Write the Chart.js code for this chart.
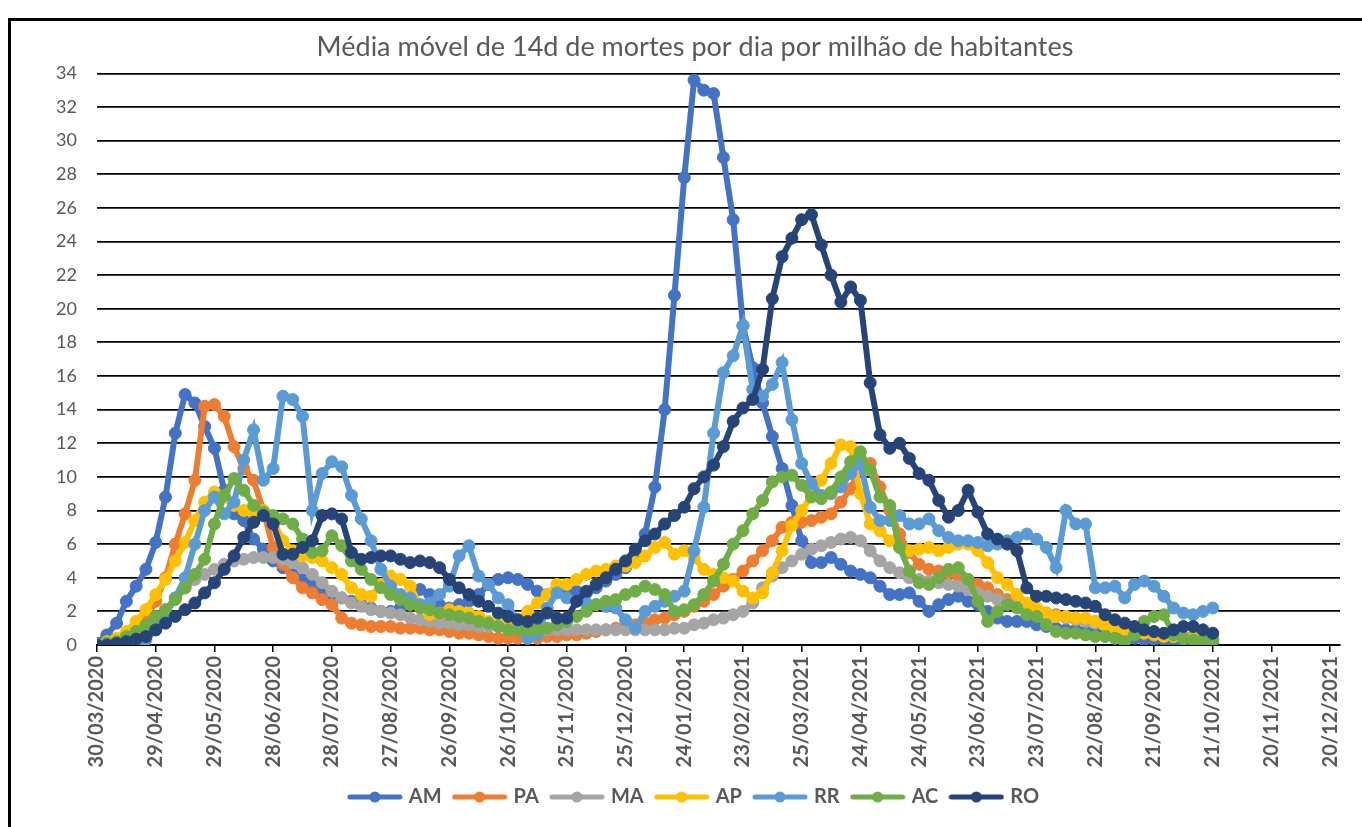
<!DOCTYPE html>
<html>
<head>
<meta charset="utf-8">
<script src="https://cdn.jsdelivr.net/npm/chart.js@4.4.1/dist/chart.umd.min.js"></script>
<style>
  html, body { margin: 0; padding: 0; background: #fff; }
  #frame {
    position: absolute; left: 8px; top: 18px; width: 1360px; height: 900px;
    border-left: 3px solid #000; border-top: 3px solid #000;
  }
  #chart { position: absolute; left: 0; top: 0; }
</style>
</head>
<body>
<div id="frame"></div>
<canvas id="chart" width="1362" height="827"></canvas>
<script>
// days since 30/03/2020, one sample every 5 days
const days = [
  0, 5, 10, 15, 20, 25, 30, 35, 40, 45,
  50, 55, 60, 65, 70, 75, 80, 85, 90, 95,
  100, 105, 110, 115, 120, 125, 130, 135, 140, 145,
  150, 155, 160, 165, 170, 175, 180, 185, 190, 195,
  200, 205, 210, 215, 220, 225, 230, 235, 240, 245,
  250, 255, 260, 265, 270, 275, 280, 285, 290, 295,
  300, 305, 310, 315, 320, 325, 330, 335, 340, 345,
  350, 355, 360, 365, 370, 375, 380, 385, 390, 395,
  400, 405, 410, 415, 420, 425, 430, 435, 440, 445,
  450, 455, 460, 465, 470, 475, 480, 485, 490, 495,
  500, 505, 510, 515, 520, 525, 530, 535, 540, 545,
  550, 555, 560, 565, 570,
];

const tickLabels = [
  "30/03/2020", "29/04/2020", "29/05/2020", "28/06/2020", "28/07/2020", "27/08/2020",
  "26/09/2020", "26/10/2020", "25/11/2020", "25/12/2020", "24/01/2021", "23/02/2021",
  "25/03/2021", "24/04/2021", "24/05/2021", "23/06/2021", "23/07/2021", "22/08/2021",
  "21/09/2021", "21/10/2021", "20/11/2021", "20/12/2021",
];

const seriesNames = ["AM", "PA", "MA", "AP", "RR", "AC", "RO"];
const seriesColors = ["#4472C4", "#ED7D31", "#A5A5A5", "#FFC000", "#5B9BD5", "#70AD47", "#264478"];

const am = [
  0.1, 0.6, 1.3, 2.6, 3.5, 4.5, 6.1, 8.8, 12.6, 14.9,
  14.4, 13.0, 11.7, 9.2, 7.8, 7.4, 6.3, 5.7, 5.0, 4.6,
  4.2, 3.9, 3.6, 3.3, 3.0, 2.8, 2.6, 2.4, 2.2, 2.0,
  2.0, 2.2, 2.6, 3.3, 3.0, 2.4, 2.2, 2.4, 2.6, 3.0,
  3.6, 3.9, 4.0, 3.9, 3.6, 3.2, 3.0, 3.2, 3.3, 3.2,
  3.1, 3.4, 3.8, 4.2, 4.6, 5.4, 6.6, 9.4, 14.0, 20.8,
  27.8, 33.6, 33.0, 32.8, 29.0, 25.3, 19.0, 16.5, 14.4, 12.4,
  10.5, 8.3, 6.2, 4.9, 4.9, 5.2, 4.8, 4.4, 4.2, 4.0,
  3.5, 3.0, 3.0, 3.1, 2.6, 2.0, 2.4, 2.7, 2.9, 2.6,
  2.4, 2.0, 1.6, 1.4, 1.4, 1.4, 1.2, 1.1, 1.0, 0.9,
  0.9, 0.8, 0.7, 0.6, 0.5, 0.4, 0.4, 0.3, 0.3, 0.3,
  0.2, 0.2, 0.2, 0.2, 0.2,
];

const pa = [
  0, 0.1, 0.3, 0.6, 1.0, 1.6, 2.6, 4.0, 6.0, 7.8,
  9.8, 14.2, 14.3, 13.6, 11.8, 10.5, 9.8, 8.0, 5.8, 4.8,
  4.0, 3.4, 3.1, 2.7, 2.4, 1.6, 1.3, 1.2, 1.1, 1.1,
  1.1, 1.0, 1.0, 1.0, 0.9, 0.9, 0.8, 0.7, 0.7, 0.6,
  0.5, 0.4, 0.4, 0.4, 0.4, 0.4, 0.5, 0.5, 0.6, 0.6,
  0.7, 0.8, 0.9, 1.0, 1.1, 1.2, 1.3, 1.5, 1.6, 1.8,
  2.0, 2.3, 2.6, 3.0, 3.5, 3.9, 4.4, 5.0, 5.6, 6.2,
  7.0, 7.3, 7.3, 7.4, 7.6, 7.8, 8.5, 9.3, 10.6, 10.8,
  9.4, 8.0, 6.6, 5.5, 4.8, 4.5, 4.4, 4.3, 4.1, 3.9,
  3.6, 3.4, 3.0, 2.7, 2.5, 2.3, 2.0, 1.9, 1.8, 1.7,
  1.6, 1.5, 1.4, 1.3, 1.1, 1.0, 0.9, 0.8, 0.7, 0.6,
  0.6, 0.5, 0.5, 0.4, 0.4,
];

const ma = [
  0, 0.1, 0.2, 0.4, 0.6, 1.0, 1.5, 2.1, 2.8, 3.4,
  3.9, 4.2, 4.5, 4.8, 5.0, 5.1, 5.2, 5.2, 5.2, 5.1,
  4.9, 4.6, 4.2, 3.7, 3.2, 2.8, 2.5, 2.3, 2.1, 2.0,
  1.9, 1.8, 1.6, 1.5, 1.4, 1.3, 1.3, 1.2, 1.2, 1.1,
  1.1, 1.1, 1.0, 1.0, 1.0, 1.0, 0.9, 0.9, 0.9, 0.9,
  0.9, 0.9, 0.9, 0.9, 0.9, 0.9, 0.9, 0.9, 0.9, 1.0,
  1.0, 1.2, 1.3, 1.5, 1.6, 1.8, 2.0, 2.5, 3.4, 4.1,
  4.6, 5.0, 5.4, 5.7, 5.9, 6.1, 6.3, 6.4, 6.2, 5.6,
  5.0, 4.6, 4.3, 4.0, 3.9, 3.8, 3.7, 3.6, 3.5, 3.3,
  3.1, 2.9, 2.7, 2.5, 2.3, 2.1, 2.0, 1.8, 1.7, 1.6,
  1.5, 1.4, 1.3, 1.2, 1.1, 1.0, 0.9, 0.8, 0.7, 0.6,
  0.5, 0.5, 0.4, 0.4, 0.4,
];

const ap = [
  0, 0.2, 0.4, 0.8, 1.4, 2.1, 3.0, 3.9, 5.0, 6.1,
  7.4, 8.5, 9.1, 8.8, 8.3, 8.0, 7.9, 8.0, 7.4, 6.2,
  5.6, 5.3, 5.2, 5.0, 4.6, 4.2, 3.4, 3.0, 2.9, 3.6,
  4.1, 3.9, 3.5, 2.4, 1.8, 1.9, 2.1, 2.0, 1.9, 1.7,
  1.4, 1.2, 1.1, 1.5, 2.0, 2.5, 3.0, 3.6, 3.6, 3.9,
  4.2, 4.4, 4.5, 4.7, 4.7, 4.9, 5.3, 5.8, 6.1, 5.4,
  5.6, 5.2, 4.5, 4.2, 4.0, 3.8, 3.2, 2.8, 3.1, 4.3,
  5.6, 7.1, 8.0, 8.9, 9.8, 10.8, 11.9, 11.8, 9.0, 7.2,
  6.8, 6.2, 5.8, 5.6, 5.7, 5.8, 5.6, 5.8, 6.0, 6.0,
  5.6, 4.9, 4.0, 3.6, 3.0, 2.5, 2.2, 1.9, 1.7, 1.7,
  1.6, 1.6, 1.4, 1.2, 1.0, 0.9, 0.8, 0.7, 0.6, 0.5,
  0.5, 0.4, 0.4, 0.3, 0.3,
];

const rr = [
  0, 0.1, 0.1, 0.1, 0.1, 0.3, 0.9, 1.8, 2.8, 4.0,
  6.0, 8.0, 8.8, 7.8, 8.5, 11.0, 12.8, 9.8, 10.5, 14.8,
  14.6, 13.6, 8.0, 10.2, 10.9, 10.6, 8.9, 7.5, 6.2, 4.5,
  3.5, 3.0, 2.8, 2.4, 2.5, 3.0, 3.5, 5.3, 5.9, 4.1,
  3.6, 2.8, 2.4, 1.4, 0.4, 0.6, 2.2, 3.1, 2.8, 2.6,
  2.5, 2.4, 2.3, 2.2, 1.5, 1.0, 2.0, 2.3, 2.6, 2.9,
  3.2, 5.6, 8.2, 12.6, 16.2, 17.2, 19.0, 15.2, 14.8, 15.5,
  16.8, 13.4, 10.8, 9.6, 8.9, 9.0, 9.4, 10.2, 10.8, 8.2,
  7.4, 7.4, 7.7, 7.2, 7.2, 7.5, 6.8, 6.4, 6.2, 6.2,
  6.1, 5.9, 6.0, 6.2, 6.4, 6.6, 6.3, 5.8, 4.6, 8.0,
  7.2, 7.2, 3.4, 3.4, 3.5, 2.8, 3.6, 3.8, 3.5, 2.9,
  2.2, 1.9, 1.8, 2.0, 2.2,
];

const ac = [
  0, 0.1, 0.2, 0.5, 0.8, 1.2, 1.7, 2.1, 2.7, 3.4,
  4.2, 5.1, 7.2, 8.9, 9.9, 9.2, 8.3, 7.9, 7.7, 7.5,
  7.2, 6.3, 5.5, 5.6, 6.5, 5.9, 5.0, 4.5, 3.9, 3.4,
  3.0, 2.7, 2.4, 2.2, 2.1, 1.9, 1.8, 1.7, 1.6, 1.4,
  1.3, 1.1, 0.9, 0.9, 0.9, 0.9, 1.0, 1.2, 1.4, 1.7,
  2.0, 2.4, 2.6, 2.7, 3.0, 3.2, 3.5, 3.3, 3.0, 2.0,
  2.1, 2.4, 3.0, 3.8, 4.8, 6.0, 6.8, 7.8, 8.6, 9.7,
  10.0, 10.1, 9.5, 8.8, 8.7, 9.1, 10.0, 10.9, 11.5, 10.4,
  8.8, 8.3, 5.8, 4.4, 3.7, 3.6, 4.0, 4.5, 4.6, 3.9,
  2.6, 1.4, 2.0, 2.4, 2.2, 1.8, 1.7, 1.2, 0.8, 0.7,
  0.7, 0.6, 0.5, 0.5, 0.4, 0.2, 0.6, 1.4, 1.7, 1.8,
  0.6, 0.4, 0.3, 0.3, 0.3,
];

const ro = [
  0, 0, 0.1, 0.2, 0.35, 0.5, 0.9, 1.3, 1.7, 2.1,
  2.5, 3.1, 3.7, 4.5, 5.3, 6.4, 7.3, 7.7, 7.2, 5.4,
  5.4, 5.8, 6.2, 7.7, 7.8, 7.5, 5.5, 5.1, 5.2, 5.3,
  5.3, 5.1, 4.9, 5.0, 4.9, 4.6, 3.9, 3.4, 3.0, 2.6,
  2.3, 1.9, 1.7, 1.5, 1.4, 1.6, 1.9, 1.6, 1.6, 2.6,
  3.2, 3.6, 4.0, 4.5, 5.0, 5.7, 6.2, 6.6, 7.2, 7.7,
  8.2, 9.3, 10.0, 10.7, 11.8, 13.3, 14.1, 14.6, 16.4, 20.6,
  23.1, 24.2, 25.3, 25.6, 23.8, 22.0, 20.4, 21.3, 20.5, 15.6,
  12.5, 11.7, 12.0, 11.1, 10.2, 9.8, 8.6, 7.6, 8.0, 9.2,
  7.9, 6.6, 6.3, 6.0, 5.6, 3.4, 2.9, 2.9, 2.8, 2.7,
  2.6, 2.5, 2.3, 1.8, 1.5, 1.3, 1.1, 0.9, 0.8, 0.7,
  0.9, 1.1, 1.1, 0.9, 0.7,
];

const seriesValues = [am, pa, ma, ap, rr, ac, ro];

const textColor = "#595959";
Chart.defaults.font.family = "Lato, 'Open Sans', sans-serif";
Chart.defaults.color = textColor;

// legend swatch: line with a dot in the middle, like Excel
function makeLegendMark(color) {
  const mark = document.createElement("canvas");
  mark.width = 56;
  mark.height = 14;
  const ctx = mark.getContext("2d");
  ctx.strokeStyle = color;
  ctx.lineWidth = 5;
  ctx.lineCap = "round";
  ctx.beginPath();
  ctx.moveTo(3, 7);
  ctx.lineTo(53, 7);
  ctx.stroke();
  ctx.fillStyle = color;
  ctx.beginPath();
  ctx.arc(28, 7, 5.5, 0, Math.PI * 2);
  ctx.fill();
  return mark;
}

const legendMarks = seriesColors.map(makeLegendMark);

const datasets = seriesNames.map((name, i) => ({
  label: name,
  data: days.map((day, j) => ({ x: day, y: seriesValues[i][j] })),
  borderColor: seriesColors[i],
  backgroundColor: seriesColors[i],
  pointBackgroundColor: seriesColors[i],
  pointBorderColor: seriesColors[i],
  borderWidth: 6,
  pointRadius: 6,
  pointBorderWidth: 1,
  tension: 0,
  order: seriesNames.length - i,
}));

new Chart(document.getElementById("chart"), {
  type: "line",
  data: { datasets },
  options: {
    responsive: false,
    animation: false,
    devicePixelRatio: 1,
    layout: { padding: { top: 20, right: 22, bottom: 10, left: 50 } },
    plugins: {
      tooltip: { enabled: false },
      title: {
        display: true,
        text: "Média móvel de 14d de mortes por dia por milhão de habitantes",
        color: textColor,
        font: { size: 27, weight: "normal" },
        padding: { top: 11, bottom: 10 },
      },
      legend: {
        position: "bottom",
        labels: {
          usePointStyle: true,
          pointStyleWidth: 48,
          padding: 14,
          color: textColor,
          font: { size: 20, weight: "bold" },
          generateLabels(chart) {
            const items = Chart.defaults.plugins.legend.labels.generateLabels(chart);
            items.forEach((item) => {
              item.pointStyle = legendMarks[item.datasetIndex];
            });
            return items;
          },
          sort: (a, b) => a.datasetIndex - b.datasetIndex,
        },
      },
    },
    scales: {
      x: {
        type: "linear",
        min: 0,
        max: 635,
        afterFit(scale) {
          scale.height = 128;
        },
        border: { display: true, color: "#000", width: 2 },
        grid: {
          drawOnChartArea: false,
          drawTicks: true,
          tickLength: 7,
          color: "#000",
          lineWidth: 1.5,
        },
        ticks: {
          stepSize: 30,
          includeBounds: false,
          autoSkip: false,
          maxRotation: 90,
          minRotation: 90,
          padding: 4,
          color: textColor,
          font: { size: 20, weight: "bold" },
          callback: (value) => tickLabels[Math.round(value / 30)],
        },
      },
      y: {
        min: 0,
        max: 34,
        afterFit(scale) {
          scale.width = 47;
        },
        border: { display: false },
        grid: { color: "#000", lineWidth: 1.8, drawTicks: false },
        ticks: {
          stepSize: 2,
          padding: 20,
          color: textColor,
          font: { size: 18 },
        },
      },
    },
  },
});
</script>
</body>
</html>
